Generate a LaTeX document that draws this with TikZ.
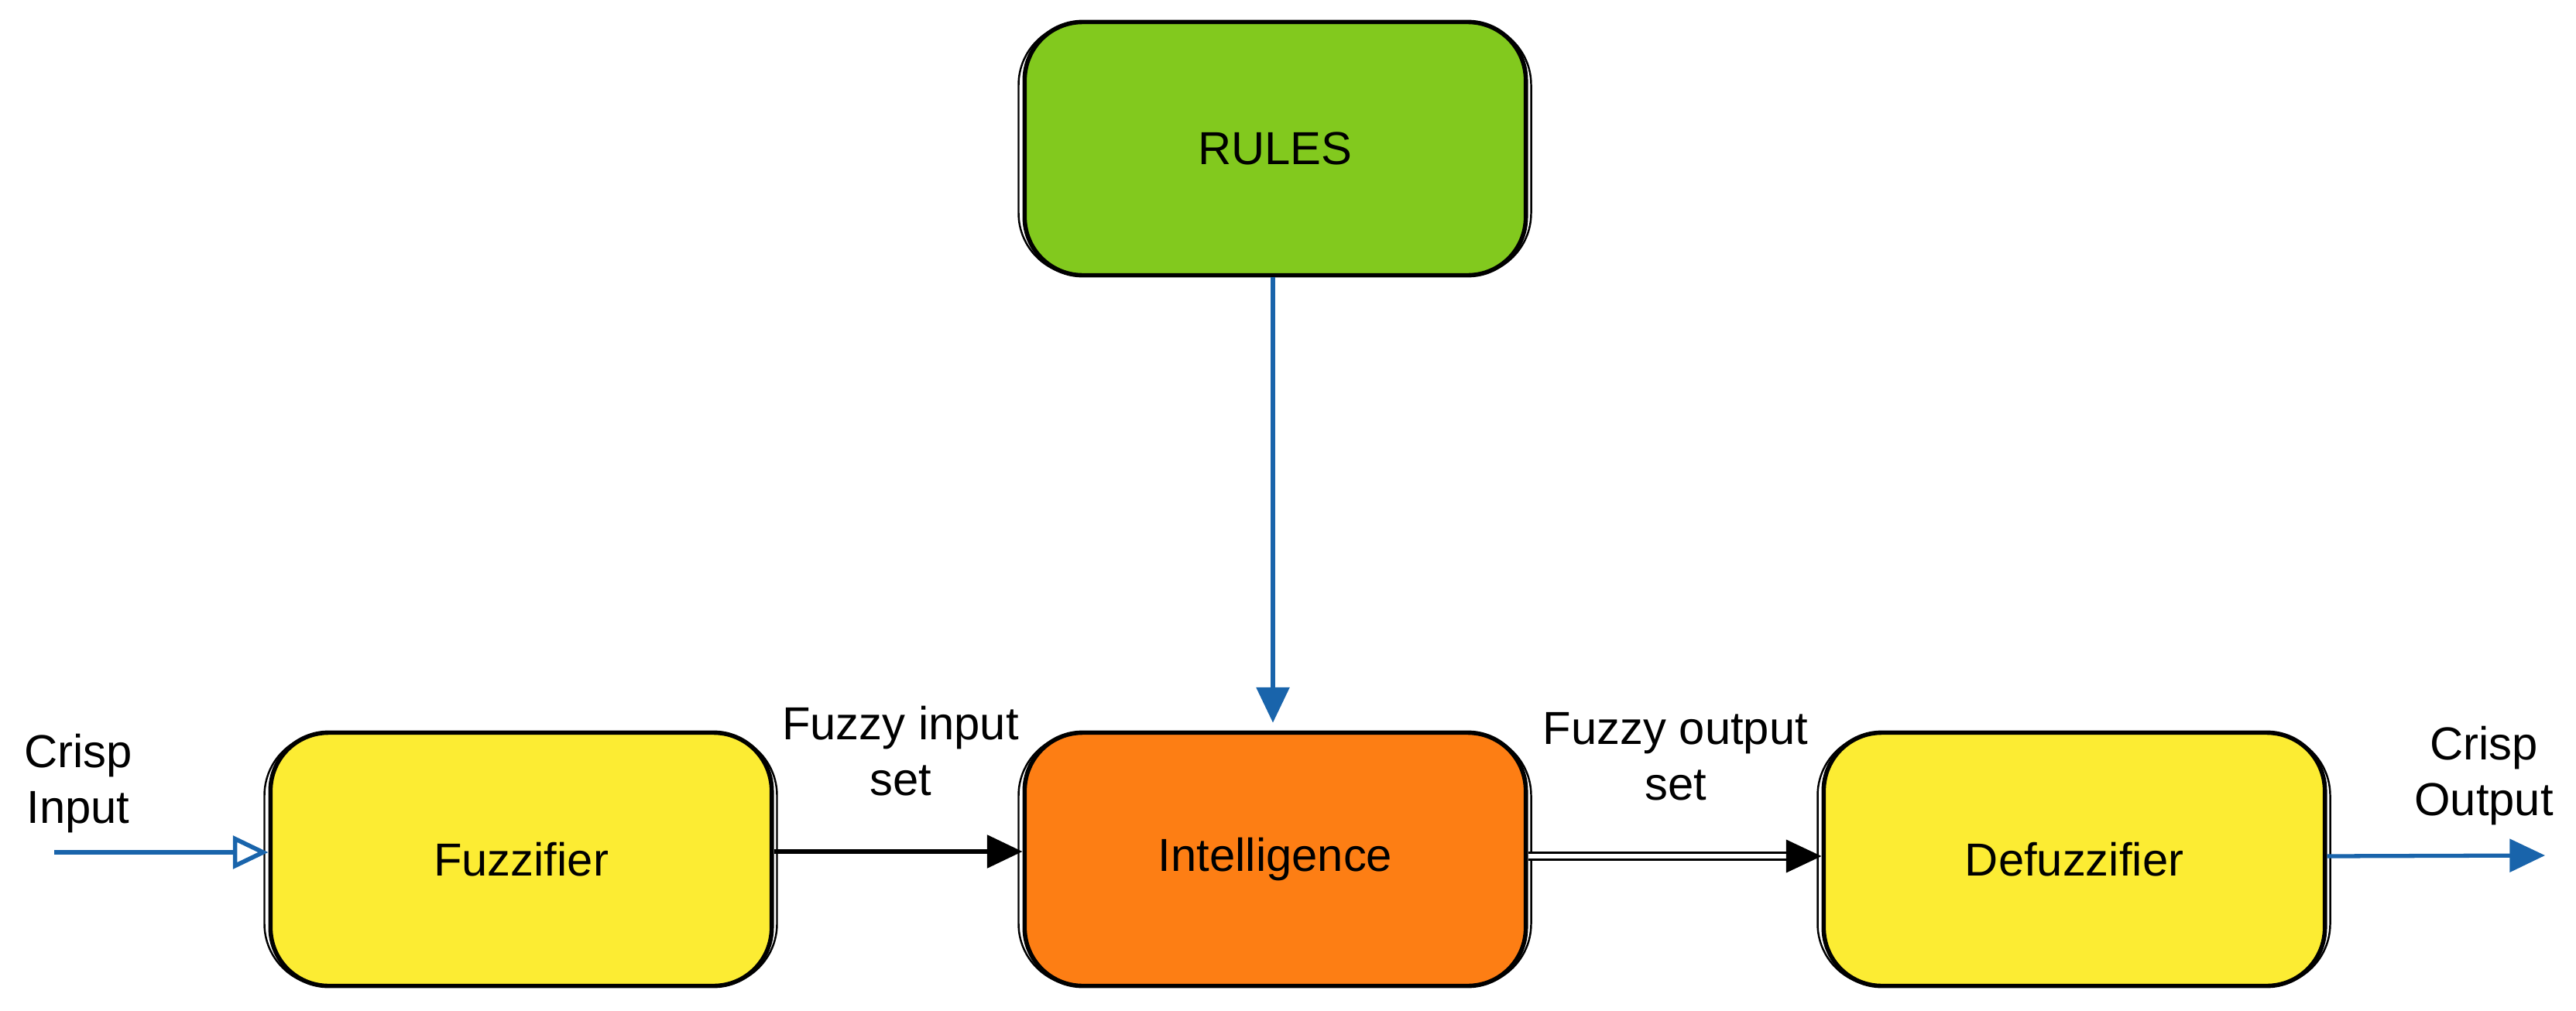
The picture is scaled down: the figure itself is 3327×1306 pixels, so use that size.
\documentclass[tikz,border=0pt]{standalone}
\usepackage{fontspec}
\setmainfont{Liberation Sans}
\usetikzlibrary{arrows.meta,positioning}
\definecolor{rgreen}{RGB}{130,201,30}
\definecolor{rorange}{RGB}{253,126,20}
\definecolor{ryellow}{RGB}{252,236,51}
\definecolor{rblue}{RGB}{25,100,171}
\tikzset{
  blockbox/.style={draw=black, line width=1.6pt, rounded corners=0.75cm,
    minimum width=6.47cm, minimum height=3.27cm, inner sep=0pt,
    font=\fontsize{17}{20}\selectfont},
  sketchline/.style={draw=black, line width=0.7pt, rounded corners=0.8cm},
  lbl/.style={font=\fontsize{17}{20.5}\selectfont, align=center, inner sep=0pt},
  blackarrow/.style={draw=black, line width=1.5pt, -{Triangle[length=13pt,width=12pt]}},
  bluearrow/.style={draw=rblue, line width=1.5pt, -{Triangle[length=13pt,width=12pt]}},
  bluearrowopen/.style={draw=rblue, line width=1.5pt, -{Triangle[open,length=13pt,width=12pt,line width=1.6pt]}},
  doublearrow/.style={draw=black, line width=1pt, double distance=1.6pt, -{Triangle[length=13pt,width=12pt]}},
}
\begin{document}
\begin{tikzpicture}[x=0.01cm, y=-0.01cm]
\useasboundingbox (0,0) rectangle (3327,1306);
% boxes
\node[blockbox, fill=rgreen]  (rules)  at (1647,192)  {RULES};
\node[blockbox, fill=ryellow] (fuzz)   at (673,1110)  {Fuzzifier};
\node[blockbox, fill=rorange] (intel)  at (1647,1110) {Intelligence};
\node[blockbox, fill=ryellow] (defuzz) at (2679,1110) {Defuzzifier};
% sketchy second outlines
\foreach \n in {rules,fuzz,intel,defuzz}{
  \draw[sketchline] ([shift={(-5,4)}]\n.north west) rectangle ([shift={(4,-3)}]\n.south east);
}
% labels
\node[lbl] (crispin)  at (101,1012)  {Crisp\\Input};
\node[lbl] (fzin)     at (1163,970)  {Fuzzy input\\set};
\node[lbl] (fzout)    at (2164,977)  {Fuzzy output\\set};
\node[lbl] (crispout) at (3208,1002) {Crisp\\Output};
% connectors
\coordinate (inStart) at (70,1101);
\coordinate (outEnd) at (3287,1105);
\draw[bluearrowopen] (inStart) -- (inStart -| fuzz.west);
\draw[blackarrow] ([yshift=0.1cm]fuzz.east) -- ([yshift=0.1cm]intel.west);
\draw[doublearrow] ([yshift=0.04cm]intel.east) -- ([yshift=0.04cm]defuzz.west);
\draw[bluearrow] ([yshift=0.04cm]defuzz.east) -- (outEnd);
\draw[bluearrow, shorten >=0.1cm] ([xshift=-0.03cm]rules.south) -- ([xshift=-0.03cm]intel.north);
\end{tikzpicture}
\end{document}
